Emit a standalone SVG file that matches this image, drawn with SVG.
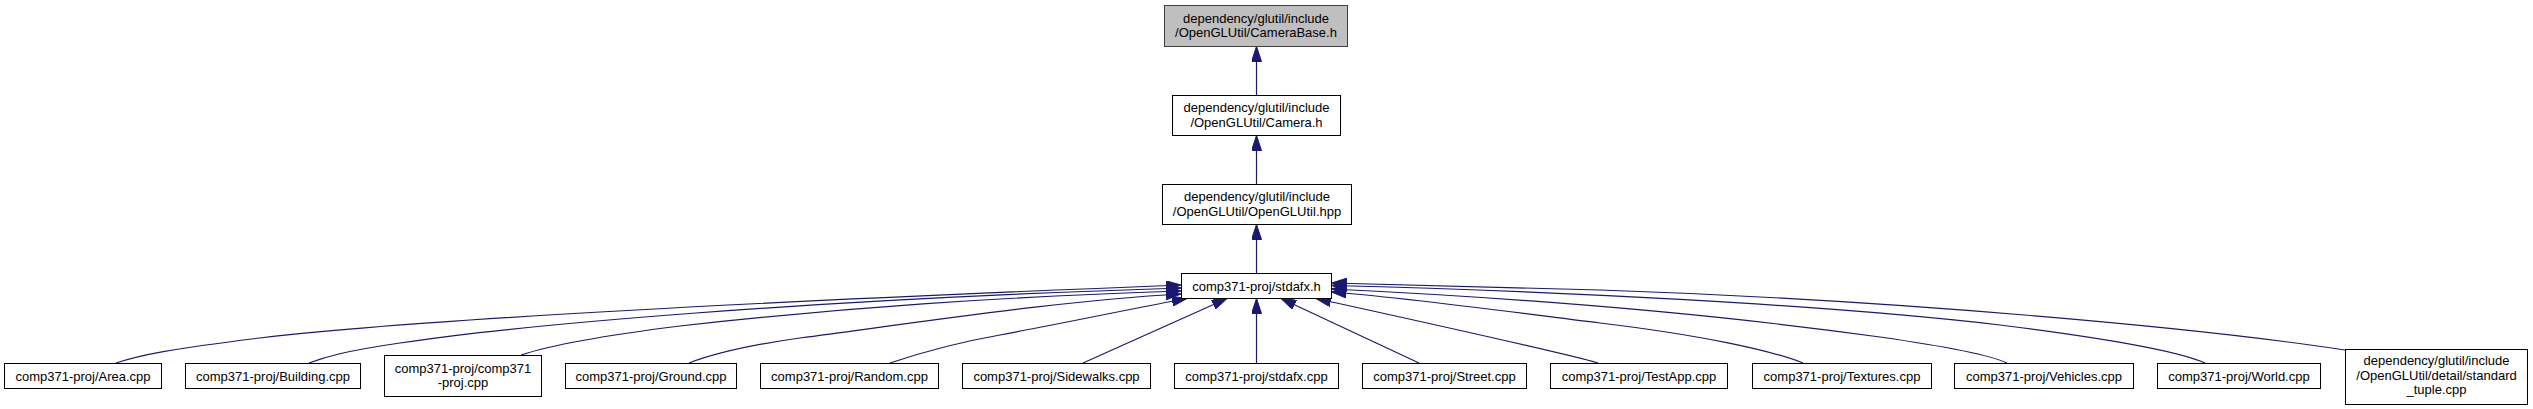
<svg xmlns="http://www.w3.org/2000/svg" width="2533" height="409" viewBox="0 0 2533 409">
<style>
.node rect{fill:#ffffff;stroke:#000000;stroke-width:1}
.node.hl rect{fill:#bfbfbf;stroke:#404040}
.node text{font-family:"Liberation Sans",Arial,sans-serif;font-size:13px;fill:#000000;text-anchor:middle}
.edges path{fill:none;stroke:#191970;stroke-width:1.2;marker-end:url(#arr)}
</style>
<defs>
<marker id="arr" markerUnits="userSpaceOnUse" viewBox="0 0 15 10" refX="15" refY="5" markerWidth="15" markerHeight="10" orient="auto">
<path d="M0,0 L15,5 L0,10 z" fill="#191970" stroke="#191970" stroke-width="1"/>
</marker>
</defs>
<rect x="0" y="0" width="2533" height="409" fill="#ffffff"/>
<g class="edges" id="connectors">
<path d="M1256.5,95 L1256.5,46.5"/>
<path d="M1256.5,184 L1256.5,135.5"/>
<path d="M1256.5,273 L1256.5,224.5"/>
<path d="M116,363 C140,355 170,349 260,338 C420,319 800,300 1181,285"/>
<path d="M309,363 C325,357 345,351 400,343 C520,325 800,300 1181,288"/>
<path d="M521,355 C545,347 600,336 680,326 C850,307 1000,297 1181,291"/>
<path d="M689,363 C710,355 750,345 800,338 C950,318 1070,300 1181,294"/>
<path d="M890,363 C920,353 960,342 1000,335 C1080,320 1140,307 1187,298.5"/>
<path d="M1083,363 L1227,298.5"/>
<path d="M1256.5,363 L1256.5,298.5"/>
<path d="M1419,363 L1281,298.5"/>
<path d="M1598,363 C1560,352 1400,317 1316,298.5"/>
<path d="M1803,363 C1770,350 1700,335 1600,323 C1480,308 1400,297 1331.5,292"/>
<path d="M2007,363 C1990,355 1950,347 1880,337 C1700,312 1500,297 1331.5,289"/>
<path d="M2205,363 C2180,352 2120,340 2000,325 C1820,304 1550,291 1331.5,285.5"/>
<path d="M2345,350 C2200,328 1900,300 1600,290 C1500,287 1400,284 1331.5,283"/>
</g>
<g class="node hl" id="node-camerabase">
<rect x="1164.5" y="5.5" width="183" height="41"/>
<text x="1256" y="22.5">dependency/glutil/include</text>
<text x="1256" y="37">/OpenGLUtil/CameraBase.h</text>
</g>
<g class="node" id="node-camera">
<rect x="1172.5" y="95.5" width="168" height="40"/>
<text x="1256.5" y="112">dependency/glutil/include</text>
<text x="1256.5" y="126.5">/OpenGLUtil/Camera.h</text>
</g>
<g class="node" id="node-openglutil">
<rect x="1162.5" y="184.5" width="189" height="40"/>
<text x="1257" y="201">dependency/glutil/include</text>
<text x="1257" y="215.5">/OpenGLUtil/OpenGLUtil.hpp</text>
</g>
<g class="node" id="node-stdafx-h">
<rect x="1181.5" y="273.5" width="150" height="25"/>
<text x="1256.5" y="290.5">comp371-proj/stdafx.h</text>
</g>
<g class="node" id="node-area">
<rect x="4.5" y="363.5" width="157" height="25"/>
<text x="83" y="381">comp371-proj/Area.cpp</text>
</g>
<g class="node" id="node-building">
<rect x="185.5" y="363.5" width="175" height="25"/>
<text x="273" y="381">comp371-proj/Building.cpp</text>
</g>
<g class="node" id="node-comp371-proj">
<rect x="384.5" y="355.5" width="157" height="41"/>
<text x="463" y="372.5">comp371-proj/comp371</text>
<text x="463" y="387">-proj.cpp</text>
</g>
<g class="node" id="node-ground">
<rect x="565.5" y="363.5" width="171" height="25"/>
<text x="651" y="381">comp371-proj/Ground.cpp</text>
</g>
<g class="node" id="node-random">
<rect x="760.5" y="363.5" width="178" height="25"/>
<text x="849.5" y="381">comp371-proj/Random.cpp</text>
</g>
<g class="node" id="node-sidewalks">
<rect x="962.5" y="363.5" width="188" height="25"/>
<text x="1056.5" y="381">comp371-proj/Sidewalks.cpp</text>
</g>
<g class="node" id="node-stdafx-cpp">
<rect x="1174.5" y="363.5" width="164" height="25"/>
<text x="1256.5" y="381">comp371-proj/stdafx.cpp</text>
</g>
<g class="node" id="node-street">
<rect x="1362.5" y="363.5" width="164" height="25"/>
<text x="1444.5" y="381">comp371-proj/Street.cpp</text>
</g>
<g class="node" id="node-testapp">
<rect x="1550.5" y="363.5" width="177" height="25"/>
<text x="1639" y="381">comp371-proj/TestApp.cpp</text>
</g>
<g class="node" id="node-textures">
<rect x="1752.5" y="363.5" width="179" height="25"/>
<text x="1842" y="381">comp371-proj/Textures.cpp</text>
</g>
<g class="node" id="node-vehicles">
<rect x="1954.5" y="363.5" width="179" height="25"/>
<text x="2044" y="381">comp371-proj/Vehicles.cpp</text>
</g>
<g class="node" id="node-world">
<rect x="2157.5" y="363.5" width="163" height="25"/>
<text x="2239" y="381">comp371-proj/World.cpp</text>
</g>
<g class="node" id="node-standard-tuple">
<rect x="2345.5" y="349.5" width="182" height="55"/>
<text x="2436.5" y="365">dependency/glutil/include</text>
<text x="2436.5" y="379.5">/OpenGLUtil/detail/standard</text>
<text x="2436.5" y="394">_tuple.cpp</text>
</g>
</svg>
